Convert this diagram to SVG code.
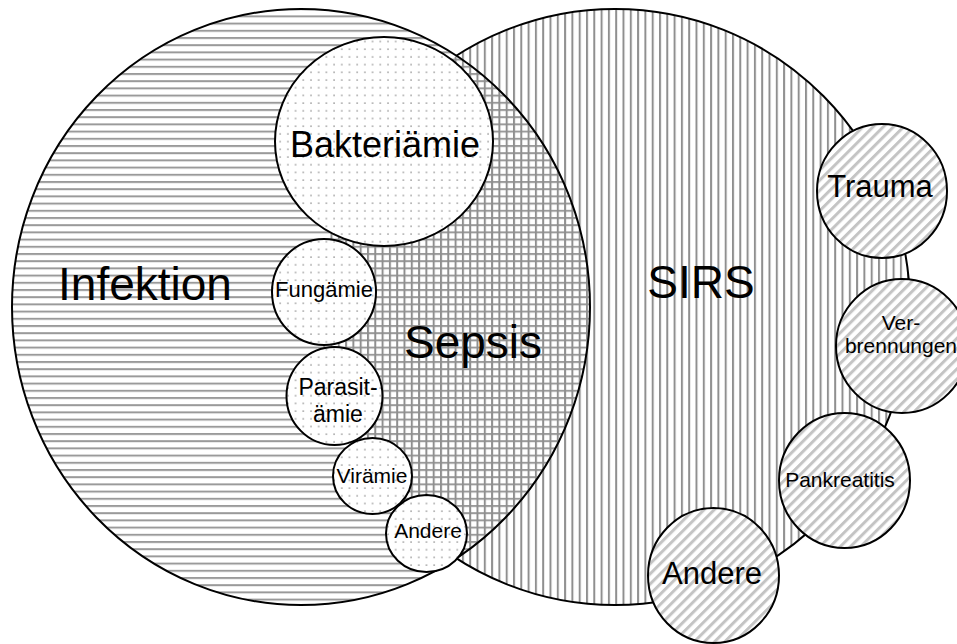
<svg xmlns="http://www.w3.org/2000/svg" width="957" height="644" viewBox="0 0 957 644">
<style>
  .lbl { font-family: "Liberation Sans", Arial, sans-serif; fill: #000; text-anchor: middle; }
  .edge { fill: none; stroke: #000; stroke-width: 2; }
  .white { fill: #fff; stroke: none; }
</style>
<defs>
  <pattern id="hpat" patternUnits="userSpaceOnUse" x="0" y="1" width="8" height="7.2">
    <rect x="0" y="0" width="8" height="2" fill="#9a9a9a"/>
  </pattern>
  <pattern id="vpat" patternUnits="userSpaceOnUse" x="2" y="0" width="7.3" height="8">
    <rect x="0" y="0" width="2" height="8" fill="#8f8f8f"/>
  </pattern>
  <pattern id="dots" patternUnits="userSpaceOnUse" x="1" y="1" width="7.7" height="7.7">
    <circle cx="2" cy="2" r="0.9" fill="#9a9a9a"/>
  </pattern>
  <pattern id="diag" patternUnits="userSpaceOnUse" width="7.2" height="10" patternTransform="rotate(45)">
    <rect x="0" y="0" width="3" height="10" fill="#c4c4c4"/>
  </pattern>
  <clipPath id="infClip">
    <ellipse cx="301" cy="307" rx="289" ry="298"/>
  </clipPath>
</defs>

<g id="sirs">
  <ellipse class="white" cx="615" cy="307" rx="295" ry="298"/>
  <ellipse cx="615" cy="307" rx="295" ry="298" fill="url(#vpat)"/>
  <ellipse class="edge" cx="615" cy="307" rx="295" ry="298"/>
</g>

<g id="infektion">
  <ellipse class="white" cx="301" cy="307" rx="289" ry="298"/>
  <ellipse cx="301" cy="307" rx="289" ry="298" fill="url(#hpat)"/>
</g>

<g id="sepsis">
  <ellipse cx="615" cy="307" rx="295" ry="298" fill="url(#vpat)" clip-path="url(#infClip)"/>
</g>

<g id="infektion-edge">
  <ellipse class="edge" cx="301" cy="307" rx="289" ry="298"/>
</g>

<g id="label-infektion"><text class="lbl" x="145" y="300" font-size="46">Infektion</text></g>
<g id="label-sepsis"><text class="lbl" x="473" y="358" font-size="46">Sepsis</text></g>
<g id="label-sirs"><text class="lbl" x="701" y="298" font-size="46">SIRS</text></g>

<g id="bakteriaemie">
  <ellipse class="white" cx="384" cy="141.5" rx="109" ry="104.5"/>
  <ellipse cx="384" cy="141.5" rx="109" ry="104.5" fill="url(#dots)"/>
  <ellipse class="edge" cx="384" cy="141.5" rx="109" ry="104.5"/>
  <text class="lbl" x="385" y="157" font-size="36">Bakteriämie</text>
</g>

<g id="fungaemie">
  <ellipse class="white" cx="324" cy="292" rx="52" ry="53"/>
  <ellipse cx="324" cy="292" rx="52" ry="53" fill="url(#dots)"/>
  <ellipse class="edge" cx="324" cy="292" rx="52" ry="53"/>
  <text class="lbl" x="324" y="297" font-size="22">Fungämie</text>
</g>

<g id="parasitaemie">
  <ellipse class="white" cx="334.5" cy="396" rx="48" ry="49"/>
  <ellipse cx="334.5" cy="396" rx="48" ry="49" fill="url(#dots)"/>
  <ellipse class="edge" cx="334.5" cy="396" rx="48" ry="49"/>
  <text class="lbl" x="338" y="395" font-size="23">Parasit-</text>
  <text class="lbl" x="338" y="422" font-size="23">ämie</text>
</g>

<g id="viraemie">
  <ellipse class="white" cx="372.5" cy="476" rx="39.5" ry="38"/>
  <ellipse cx="372.5" cy="476" rx="39.5" ry="38" fill="url(#dots)"/>
  <ellipse class="edge" cx="372.5" cy="476" rx="39.5" ry="38"/>
  <text class="lbl" x="372" y="483" font-size="21">Virämie</text>
</g>

<g id="andere-infektion">
  <ellipse class="white" cx="426.5" cy="533.5" rx="40.5" ry="38.5"/>
  <ellipse cx="426.5" cy="533.5" rx="40.5" ry="38.5" fill="url(#dots)"/>
  <ellipse class="edge" cx="426.5" cy="533.5" rx="40.5" ry="38.5"/>
  <text class="lbl" x="428" y="538" font-size="21">Andere</text>
</g>

<g id="trauma">
  <ellipse class="white" cx="882" cy="191" rx="65" ry="67"/>
  <ellipse cx="882" cy="191" rx="65" ry="67" fill="url(#diag)"/>
  <ellipse class="edge" cx="882" cy="191" rx="65" ry="67"/>
  <text class="lbl" x="880" y="197" font-size="31">Trauma</text>
</g>

<g id="verbrennungen">
  <ellipse class="white" cx="902" cy="346" rx="66" ry="67"/>
  <ellipse cx="902" cy="346" rx="66" ry="67" fill="url(#diag)"/>
  <ellipse class="edge" cx="902" cy="346" rx="66" ry="67"/>
  <text class="lbl" x="901" y="330" font-size="21">Ver-</text>
  <text class="lbl" x="901" y="353" font-size="21">brennungen</text>
</g>

<g id="pankreatitis">
  <ellipse class="white" cx="844.5" cy="480.5" rx="65.5" ry="67.5"/>
  <ellipse cx="844.5" cy="480.5" rx="65.5" ry="67.5" fill="url(#diag)"/>
  <ellipse class="edge" cx="844.5" cy="480.5" rx="65.5" ry="67.5"/>
  <text class="lbl" x="840" y="487" font-size="21">Pankreatitis</text>
</g>

<g id="andere-sirs">
  <ellipse class="white" cx="713.5" cy="575.5" rx="65.5" ry="67.5"/>
  <ellipse cx="713.5" cy="575.5" rx="65.5" ry="67.5" fill="url(#diag)"/>
  <ellipse class="edge" cx="713.5" cy="575.5" rx="65.5" ry="67.5"/>
  <text class="lbl" x="712" y="584" font-size="31">Andere</text>
</g>
</svg>
